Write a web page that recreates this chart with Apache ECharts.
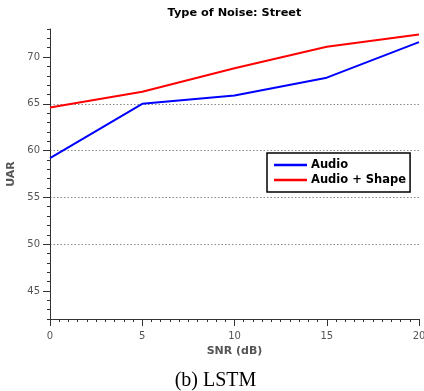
<!DOCTYPE html>
<html>
<head>
<meta charset="utf-8">
<script src="https://cdn.jsdelivr.net/npm/echarts@6/dist/echarts.min.js"></script>
<style>
html,body{margin:0;padding:0;background:#fff;}
#c{width:424px;height:391px;}
</style>
</head>
<body>
<div id="c"></div>
<script>
var snr = [0, 5, 10, 15, 20];
var audio = [59.2, 65.0, 65.9, 67.8, 71.6];
var audioShape = [64.6, 66.3, 68.8, 71.1, 72.4];
var yTicks = [45, 50, 55, 60, 65, 70];
var xTicks = [0, 5, 10, 15, 20];
var seriesNames = ['Audio', 'Audio + Shape'];

function pairs(xs, ys) { return xs.map(function (x, i) { return [x, ys[i]]; }); }

var font = 'DejaVu Sans';
var chart = echarts.init(document.getElementById('c'), null, {renderer: 'canvas'});
chart.setOption({
  animation: false,
  backgroundColor: '#fff',
  title: [
    {text: 'Type of Noise: Street', left: 234.5, top: 8, textAlign: 'center', padding: 0,
     textStyle: {fontFamily: font, fontSize: 11.3, fontWeight: 'bold', color: '#000'}},
    {text: '(b) LSTM', left: 215.5, top: 371, textAlign: 'center', padding: 0,
     textStyle: {fontFamily: 'Liberation Serif', fontSize: 20, fontWeight: 'normal', color: '#000'}}
  ],
  grid: {left: 50, right: 5, top: 29, bottom: 72, containLabel: false, outerBoundsMode: 'none'},
  legend: {
    data: seriesNames, orient: 'vertical', left: 267, top: 153,
    backgroundColor: '#fff', borderColor: '#000', borderWidth: 1.5, borderRadius: 0,
    padding: [6, 4, 6, 7], itemGap: 3, itemWidth: 33, itemHeight: 14,
    icon: 'path://M0,6 L33,6 L33,8.5 L0,8.5 Z',
    textStyle: {fontFamily: font, fontSize: 11.5, fontWeight: 'bold', color: '#000', padding: [0,0,0,-1]}
  },
  xAxis: {
    type: 'value', min: 0, max: 20, interval: 5,
    name: 'SNR (dB)', nameLocation: 'middle', nameGap: 26,
    nameTextStyle: {fontFamily: font, fontSize: 11, fontWeight: 'bold', color: '#555'},
    axisLine: {show: true, onZero: false, lineStyle: {color: '#333', width: 1}},
    axisTick: {show: true, inside: false, length: 7, lineStyle: {color: '#333'}},
    minorTick: {show: true, splitNumber: 10, length: 3, lineStyle: {color: '#333'}},
    axisLabel: {fontFamily: font, fontSize: 10, color: '#555', margin: 12,
      customValues: xTicks},
    splitLine: {show: false}
  },
  yAxis: [
    {
      type: 'value', min: 42, max: 73, splitNumber: 6,
      name: 'UAR', nameLocation: 'middle', nameGap: 30,
      nameTextStyle: {fontFamily: font, fontSize: 11, fontWeight: 'bold', color: '#555'},
      axisLine: {show: true, onZero: false, lineStyle: {color: '#333', width: 1}},
      axisTick: {show: true, inside: false, length: 7, customValues: yTicks, lineStyle: {color: '#333'}},
      axisLabel: {fontFamily: font, fontSize: 10, color: '#555', margin: 10, customValues: yTicks},
      splitLine: {show: true, showMinLine: false, showMaxLine: false,
        lineStyle: {color: '#888', type: [1.5, 2], width: 1}}
    },
    {
      type: 'value', min: 42, max: 73, interval: 1, position: 'left',
      axisLine: {show: false},
      axisTick: {show: true, inside: false, length: 3, lineStyle: {color: '#333'}},
      axisLabel: {show: false},
      splitLine: {show: false}
    }
  ],
  series: [
    {name: seriesNames[0], type: 'line', data: pairs(snr, audio), symbol: 'none',
     lineStyle: {color: '#0000ff', width: 2}, itemStyle: {color: '#0000ff'}},
    {name: seriesNames[1], type: 'line', data: pairs(snr, audioShape), symbol: 'none',
     lineStyle: {color: '#ff0000', width: 2}, itemStyle: {color: '#ff0000'}}
  ]
});
</script>
</body>
</html>
